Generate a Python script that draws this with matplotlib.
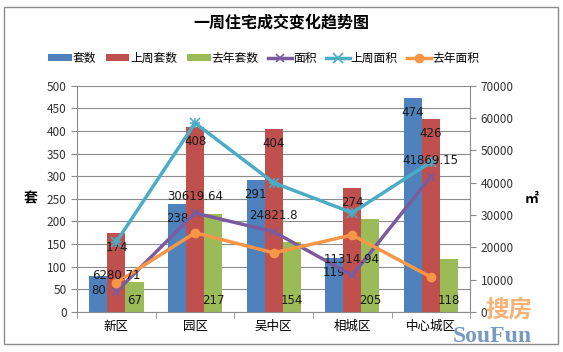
import numpy as np
import matplotlib.pyplot as plt
from matplotlib.patches import Rectangle

plt.rcParams['font.family'] = ['Noto Sans CJK SC', 'DejaVu Sans']

# data
districts = ['新区', '园区', '吴中区', '相城区', '中心城区']
units = [80, 238, 291, 119, 474]
units_last_week = [174, 408, 404, 274, 426]
units_last_year = [67, 217, 154, 205, 118]
area = [6280.71, 30619.64, 24821.8, 11314.94, 41869.15]
area_last_week = [21700, 58500, 40000, 30700, 46400]
area_last_year = [9000, 24500, 18300, 23800, 10800]

c_blue, c_red, c_green = '#4F81BD', '#C0504D', '#9BBB59'
c_purple, c_teal, c_orange = '#7A5C9E', '#4BACC6', '#F79646'

fig = plt.figure(figsize=(5.63, 3.52), dpi=100)
fig.patch.set_facecolor('white')
fig.patches.append(Rectangle((0.007, 0.022), 0.985, 0.957, transform=fig.transFigure,
                             fill=False, edgecolor='#8c8c8c', linewidth=1))

ax = fig.add_axes([0.137, 0.114, 0.698, 0.642])
ax2 = ax.twinx()

x = np.arange(len(districts))
w = 0.23
b1 = ax.bar(x - w, units, w, color=c_blue, label='套数')
b2 = ax.bar(x, units_last_week, w, color=c_red, label='上周套数')
b3 = ax.bar(x + w, units_last_year, w, color=c_green, label='去年套数')

lab_kw = dict(fontsize=8.5, color='#1a1a1a', ha='center', va='center', family='DejaVu Sans')
for i in range(len(x)):
    ax.text(x[i] - w, units[i] - 32, str(units[i]), **lab_kw)
    ax.text(x[i], units_last_week[i] - 32, str(units_last_week[i]), **lab_kw)
    ax.text(x[i] + w, 25, str(units_last_year[i]), **lab_kw)

ax.set_ylim(0, 500)
ax.set_yticks(range(0, 501, 50))
ax.set_xlim(-0.5, len(districts) - 0.5)
ax.set_xticks(x)
ax.set_xticklabels(districts, fontsize=9)
ax.set_xticks(np.arange(-0.5, len(districts)), minor=True)
ax.tick_params(axis='x', which='major', length=0, pad=6)
ax.tick_params(axis='x', which='minor', length=4, color='#8c8c8c')
ax.tick_params(axis='y', labelsize=8.5, labelcolor='#333333', length=4, color='#8c8c8c', direction='out')
ax.yaxis.grid(True, color='#8c8c8c', linewidth=0.8)
ax.set_axisbelow(True)
ax.set_zorder(1)
ax2.set_zorder(2)
ax.patch.set_visible(False)
for s in ['top', 'right']:
    ax.spines[s].set_visible(False)
for s in ['left', 'bottom']:
    ax.spines[s].set_color('#8c8c8c')

l1, = ax2.plot(x, area, color=c_purple, lw=2.5, marker='x', ms=6, mew=1.2, label='面积')
l2, = ax2.plot(x, area_last_week, color=c_teal, lw=2.5, marker='x', ms=7, mew=1.2, label='上周面积')
ax2.plot(x, area_last_week, color=c_teal, lw=0, marker='+', ms=7, mew=1.2)
l3, = ax2.plot(x, area_last_year, color=c_orange, lw=2.5, marker='o', ms=6, label='去年面积')
for i in range(len(x)):
    ax2.text(x[i], area[i] + 5000, str(area[i]), **lab_kw)

ax2.set_ylim(0, 70000)
ax2.set_yticks(range(0, 70001, 10000))
ax2.tick_params(axis='y', labelsize=8.5, labelcolor='#333333', length=4, color='#8c8c8c')
for s in ['top', 'left', 'bottom']:
    ax2.spines[s].set_visible(False)
ax2.spines['right'].set_color('#8c8c8c')

fig.text(0.055, 0.435, '套', fontsize=10, fontweight='bold', ha='center', va='center')
fig.text(0.945, 0.435, '㎡', fontsize=10, fontweight='bold', ha='center', va='center')

fig.text(0.5, 0.935, '一周住宅成交变化趋势图', fontsize=11.5, fontweight='bold', ha='center', va='center')
handles = [b1, b2, b3, l1, l2, l3]
fig.legend(handles, [h.get_label() for h in handles], loc='center', bbox_to_anchor=(0.468, 0.835),
           ncol=6, frameon=False, fontsize=8.5, handlelength=2.0, handleheight=0.6,
           handletextpad=0.1, columnspacing=0.8, borderaxespad=0)

# watermark
fig.text(0.905, 0.12, '搜房', fontsize=17, color=c_orange, alpha=0.75, ha='center', va='center',
         fontweight='bold')
fig.text(0.875, 0.045, 'SouFun', fontsize=17, color='#3d6fa3', alpha=0.7, ha='center', va='center',
         family='Liberation Serif', fontweight='bold')

fig.savefig('out.png', dpi=100)
